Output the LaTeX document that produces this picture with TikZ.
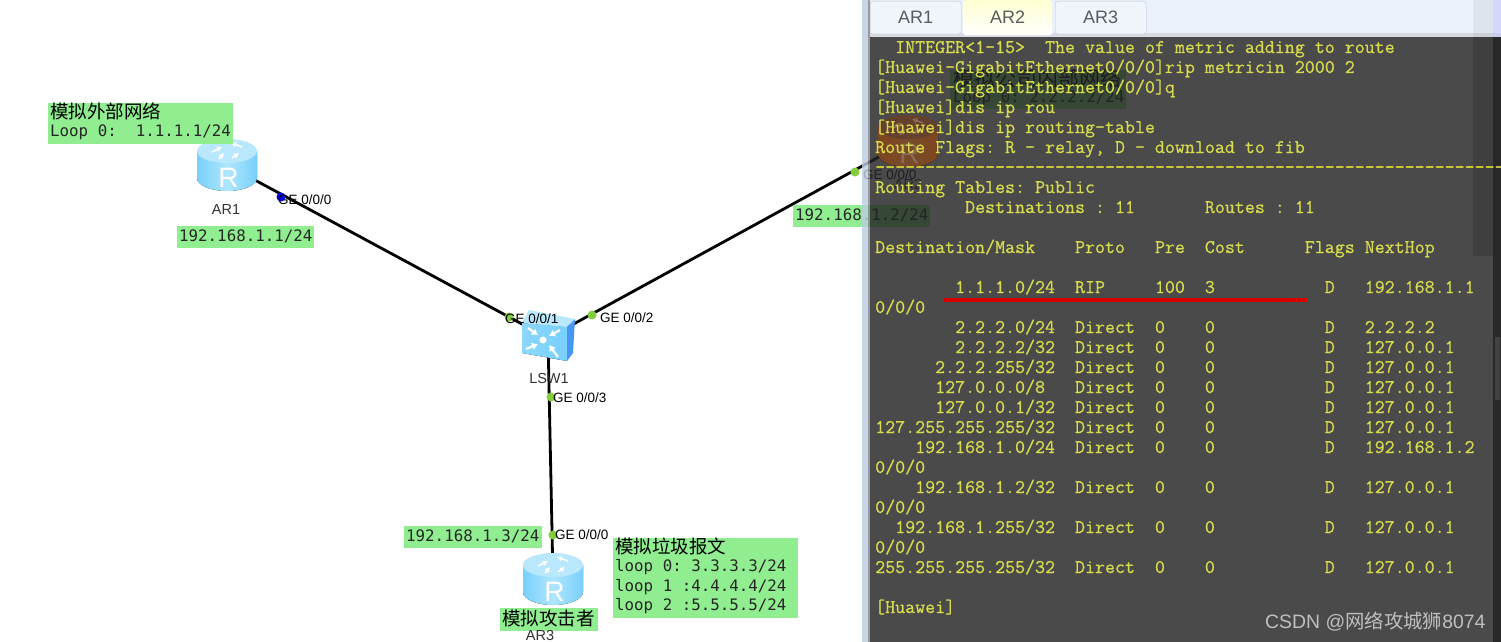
\documentclass[tikz,border=0pt]{standalone}
\usepackage{fontspec}
\usepackage{xcolor}
\usetikzlibrary{arrows.meta,positioning,calc}
\setmainfont{Liberation Sans}
\newfontfamily\cjkfont{Noto Sans CJK SC}
\newfontfamily\notemono{DejaVu Sans Mono}
\newfontfamily\termmono[FakeBold=0.7]{Latin Modern Mono}
\frenchspacing
\definecolor{notegreen}{RGB}{144,238,144}
\definecolor{portgreen}{RGB}{130,205,60}
\definecolor{portblue}{RGB}{0,0,225}
\definecolor{termback}{RGB}{35,35,35}
\definecolor{termtext}{RGB}{214,218,78}
\definecolor{termdash}{RGB}{235,235,50}
\definecolor{stripgray}{RGB}{190,205,225}
\definecolor{stripdark}{RGB}{130,135,142}
\definecolor{tabback}{RGB}{240,245,252}
\definecolor{barback}{RGB}{234,241,250}
\definecolor{tabline}{RGB}{190,196,206}
\definecolor{tabink}{RGB}{90,90,95}
\definecolor{blueside}{RGB}{120,208,252}
\definecolor{bluemid}{RGB}{175,230,252}
\definecolor{bluetop}{RGB}{185,232,252}
\definecolor{brownside}{RGB}{125,70,30}
\definecolor{brownmid}{RGB}{120,75,45}
\definecolor{browntop}{RGB}{100,65,45}
\definecolor{brownmark}{RGB}{140,105,85}
\definecolor{switchside}{RGB}{70,150,245}
\tikzset{
  pics/router/.style n args={4}{code={
    \fill[left color=#1,right color=#1,middle color=#2] (-30,-14) -- (-30,13) arc[start angle=180,end angle=0,x radius=30,y radius=13] -- (30,-14) -- cycle;
    \fill[#3] (0,-14) ellipse[x radius=30,y radius=12];
    \node[glyphtext,text=#4] (-mark) at (1.5,13) {R};
    \draw[#4,line width=1.6pt,-{Latex[length=5pt,width=6pt]}] (-15,-13) -- (-5,-18);
    \draw[#4,line width=1.6pt,-{Latex[length=5pt,width=6pt]}] (15,-18) -- (4,-22);
    \draw[#4,line width=1.6pt,-{Latex[length=5pt,width=6pt]}] (-8,-6) -- (-3,-12);
    \draw[#4,line width=1.6pt,-{Latex[length=5pt,width=6pt]}] (5,-7) -- (12,-12);
  }},
  glyphtext/.style={inner sep=0pt,font=\fontsize{28}{28}\selectfont},
  netlink/.style={black,line width=2.8pt},
  portdot/.style={circle,fill=portgreen,inner sep=0pt,minimum size=9pt},
  portlabel/.style={anchor=west,inner sep=0pt,text=black,font=\fontsize{13.5}{14}\selectfont},
  devlabel/.style={inner sep=0pt,text=black!80,font=\fontsize{14.5}{15}\selectfont},
  notebox/.style={anchor=north west,fill=notegreen,inner sep=0pt},
  notecjk/.style={anchor=west,inner sep=0pt,text=black,font=\cjkfont\fontsize{18.5}{19}\selectfont},
  notemonotext/.style={anchor=west,inner sep=0pt,text=black!85,font=\notemono\fontsize{15.8}{16}\selectfont},
  termline/.style={anchor=base west,inner sep=0pt,yshift=-5pt,text=termtext,font=\termmono\fontsize{19.4}{20}\selectfont},
  switcharrow/.style={white,line width=2.2pt,-{Latex[length=6pt,width=8pt]}},
  tabbox/.style={draw=tabline,fill=tabback,rounded corners=3pt,anchor=north west,inner sep=0pt,minimum height=33pt,text=tabink,font=\fontsize{18}{18}\selectfont},
}
\begin{document}
\begin{tikzpicture}[x=1pt,y=-1pt]
  \fill[white] (0,0) rectangle (1501,642);
  \clip (0,0) rectangle (1501,642);

  \node[minimum size=50pt,inner sep=0pt] (ar1) at (227,165) {};
  \node[minimum size=50pt,inner sep=0pt] (ar2) at (908,141) {};
  \node[minimum size=50pt,inner sep=0pt] (ar3) at (553,579) {};
  \node[minimum size=40pt,inner sep=0pt] (lsw1) at (548,338) {};
  \draw[netlink] (ar1.center) -- (lsw1.center);
  \draw[netlink] (ar2.center) -- (lsw1.center);
  \draw[netlink] (ar3.center) -- (lsw1.center);

  \pic (ar1icon) at (227,165) {router={blueside}{bluemid}{bluetop}{white}};
  \pic (ar3icon) at (553,579) {router={blueside}{bluemid}{bluetop}{white}};

  \fill[left color=blueside!85!white,right color=blueside] (522,323) -- (567,327) -- (567,361) -- (522,353) -- cycle;
  \fill[bluetop] (529,310) -- (575,319) -- (567,327) -- (522,323) -- cycle;
  \fill[switchside] (567,327) -- (575,319) -- (573,353) -- (567,361) -- cycle;
  \fill[white] (543,340) circle (3.5);
  \draw[switcharrow] (528,328) -- (538,335);
  \draw[switcharrow] (560,330) -- (549,336);
  \draw[switcharrow] (526,349) -- (538,344);
  \draw[switcharrow] (558,357) -- (549,345);

  \node[portdot,fill=portblue] (p1) at (281,197) {};
  \node[portdot] (p2) at (509,317) {};
  \node[portdot] (p3) at (592,315) {};
  \node[portdot] (p4) at (551,397) {};
  \node[portdot] (p5) at (553,535) {};
  \node[portdot] (p6) at (855,172) {};

  \node[portlabel] (ge1) at (278,200) {GE 0/0/0};
  \node[portlabel] (ge2) at (505,319) {GE 0/0/1};
  \node[portlabel] (ge3) at (600,318) {GE 0/0/2};
  \node[portlabel] (ge4) at (553,398) {GE 0/0/3};
  \node[portlabel] (ge5) at (555,535) {GE 0/0/0};
  \node[portlabel] (ge6) at (863,175) {GE 0/0/0};

  \node[devlabel] (ar1name) at (226,210) {AR1};
  \node[devlabel] (ar2name) at (908,184) {AR2};
  \node[devlabel] (lsw1name) at (549,379) {LSW1};

  \node[notebox,minimum width=185pt,minimum height=41pt] (ar1note) at (48,103) {};
  \node[notecjk] (ar1title) at (50,111) {模拟外部网络};
  \node[notemonotext] (ar1loop) at (50,132) {Loop 0:\ \ 1.1.1.1/24};
  \node[notebox,minimum width=137pt,minimum height=22pt] (ar1ipbox) at (177,226) {};
  \node[notemonotext] (ar1ip) at (179,236) {192.168.1.1/24};

  \node[notebox,minimum width=137pt,minimum height=22pt] (ar2ipbox) at (793,205) {};
  \node[notemonotext] (ar2ip) at (795,215) {192.168.1.2/24};
  \node[notebox,minimum width=176pt,minimum height=39pt] (ar2note) at (950,70) {};
  \node[notecjk,font=\cjkfont\fontsize{21}{21}\selectfont] (ar2title) at (953,78) {模拟公司内部网络};
  \node[notemonotext] (ar2loop) at (953,98) {Loop 0: 2.2.2.2/24};

  \node[notebox,minimum width=138pt,minimum height=22pt] (ar3ipbox) at (404,526) {};
  \node[notemonotext] (ar3ip) at (406,536) {192.168.1.3/24};
  \node[notebox,minimum width=98pt,minimum height=23pt] (ar3note) at (500,608) {};
  \node[notecjk] (ar3title) at (502,618) {模拟攻击者};
  \node[devlabel] (ar3name) at (540,635) {AR3};
  \node[notebox,minimum width=185pt,minimum height=80pt] (trashbox) at (613,538) {};
  \node[notecjk] (trashtitle) at (615,546) {模拟垃圾报文};
  \node[notemonotext] (trash0) at (615,567) {loop 0: 3.3.3.3/24};
  \node[notemonotext] (trash1) at (615,587) {loop 1 :4.4.4.4/24};
  \node[notemonotext] (trash2) at (615,606) {loop 2 :5.5.5.5/24};

  \fill[stripgray,opacity=0.82] (862,0) rectangle (867.5,642);
  \fill[stripdark,opacity=0.82] (867.5,0) rectangle (870,642);
  \fill[termback,opacity=0.82] (870,37) rectangle (1501,642);
  \fill[barback] (870,0) rectangle (1501,33);
  \fill[tabline!60!white] (870,33) rectangle (1501,37);
  \fill[black,opacity=0.14] (1473,37) rectangle (1493,256);
  \fill[black,opacity=0.45] (1493,37) rectangle (1501,642);
  \fill[white,opacity=0.12] (1495,337) rectangle (1500,400);
  \fill[black,opacity=0.05] (1473,0) rectangle (1493,37);
  \fill[blue!30,opacity=0.4] (1493,0) rectangle (1501,37);

  \node[tabbox,minimum width=91pt] (tab1) at (870,1) {AR1};
  \node[tabbox,minimum width=91pt] (tab3) at (1055,1) {AR3};
  \node[tabbox,minimum width=89pt,minimum height=35pt,draw=none,top color=yellow!18!white,bottom color=white] (tab2) at (963,0) {AR2};

  \pic (ar2icon) at (908,141) {router={brownside}{brownmid}{browntop}{brownmark}};

  \node[termline] (line1) at (875,48) {~~INTEGER<1-15>~~The value of metric adding to route};
  \node[termline] (line2) at (875,68) {[Huawei-GigabitEthernet0/0/0]rip metricin 2000 2};
  \node[termline] (line3) at (875,88) {[Huawei-GigabitEthernet0/0/0]q};
  \node[termline] (line4) at (875,108) {[Huawei]dis ip rou};
  \node[termline] (line5) at (875,128) {[Huawei]dis ip routing-table};
  \node[termline] (line6) at (875,148) {Route Flags: R - relay, D - download to fib};
  \node[termline,text=termdash] (line7) at (875,168) {-----------------------------------------------------------------};
  \node[termline] (line8) at (875,188) {Routing Tables: Public};
  \node[termline] (line9) at (875,208) {~~~~~~~~~Destinations : 11~~~~~~~Routes : 11};
  \node[termline] (line10) at (875,248) {Destination/Mask~~~~Proto~~~Pre~~Cost~~~~~~Flags NextHop};
  \node[termline] (line11) at (875,288) {~~~~~~~~1.1.1.0/24~~RIP~~~~~100~~3~~~~~~~~~~~D~~~192.168.1.1};
  \node[termline] (line12) at (875,308) {0/0/0};
  \node[termline] (line13) at (875,328) {~~~~~~~~2.2.2.0/24~~Direct~~0~~~~0~~~~~~~~~~~D~~~2.2.2.2};
  \node[termline] (line14) at (875,348) {~~~~~~~~2.2.2.2/32~~Direct~~0~~~~0~~~~~~~~~~~D~~~127.0.0.1};
  \node[termline] (line15) at (875,368) {~~~~~~2.2.2.255/32~~Direct~~0~~~~0~~~~~~~~~~~D~~~127.0.0.1};
  \node[termline] (line16) at (875,388) {~~~~~~127.0.0.0/8~~~Direct~~0~~~~0~~~~~~~~~~~D~~~127.0.0.1};
  \node[termline] (line17) at (875,408) {~~~~~~127.0.0.1/32~~Direct~~0~~~~0~~~~~~~~~~~D~~~127.0.0.1};
  \node[termline] (line18) at (875,428) {127.255.255.255/32~~Direct~~0~~~~0~~~~~~~~~~~D~~~127.0.0.1};
  \node[termline] (line19) at (875,448) {~~~~192.168.1.0/24~~Direct~~0~~~~0~~~~~~~~~~~D~~~192.168.1.2};
  \node[termline] (line20) at (875,468) {0/0/0};
  \node[termline] (line21) at (875,488) {~~~~192.168.1.2/32~~Direct~~0~~~~0~~~~~~~~~~~D~~~127.0.0.1};
  \node[termline] (line22) at (875,508) {0/0/0};
  \node[termline] (line23) at (875,528) {~~192.168.1.255/32~~Direct~~0~~~~0~~~~~~~~~~~D~~~127.0.0.1};
  \node[termline] (line24) at (875,548) {0/0/0};
  \node[termline] (line25) at (875,568) {255.255.255.255/32~~Direct~~0~~~~0~~~~~~~~~~~D~~~127.0.0.1};
  \node[termline] (line26) at (875,608) {[Huawei]};

  \draw[red!85!black,line width=3.6pt] (944,300) -- (1307,300);

  \node[anchor=west,inner sep=0pt,text=black!25,font=\fontsize{19.4}{20}\selectfont] (mark) at (1265,622) {CSDN @{\cjkfont 网络攻城狮}8074};
\end{tikzpicture}
\end{document}
